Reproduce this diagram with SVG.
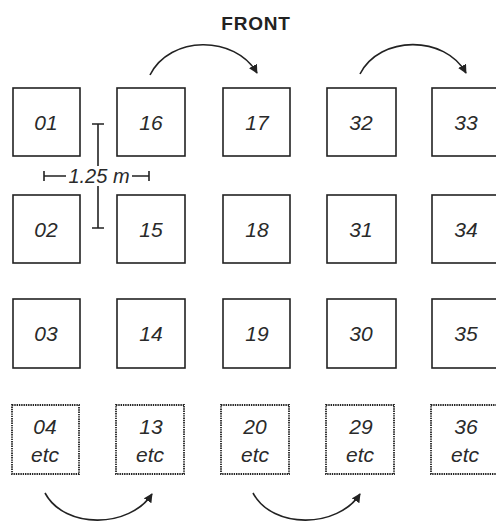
<svg xmlns="http://www.w3.org/2000/svg" width="496" height="522" viewBox="0 0 496 522">
<defs>
<style>
.box{fill:#fff;stroke:#222;stroke-width:1.6}
.dot{fill:#fff;stroke:#222;stroke-width:1.8;stroke-dasharray:1.4 0.9}
.lbl{font-family:"Liberation Sans",Arial,sans-serif;font-style:italic;font-size:21px;fill:#2a2a2a;text-anchor:middle}
.title{font-family:"Liberation Sans",Arial,sans-serif;font-weight:bold;font-size:19px;letter-spacing:0.8px;fill:#222;text-anchor:middle}
.arc{fill:none;stroke:#222;stroke-width:1.6}
.dim{fill:none;stroke:#222;stroke-width:1.6}
</style>
<marker id="ah" viewBox="0 0 10 10" refX="9" refY="5" markerWidth="9" markerHeight="9" markerUnits="userSpaceOnUse" orient="auto">
<path d="M0,0 L10,5 L0,10 z" fill="#222"/>
</marker>
</defs>
<rect width="496" height="522" fill="#fff"/>
<text class="title" x="256" y="30">FRONT</text>

<g id="n01"><rect class="box" x="13" y="88" width="67" height="68"/><text class="lbl" x="46" y="130">01</text></g>
<g id="n16"><rect class="box" x="117" y="88" width="68" height="68"/><text class="lbl" x="151" y="130">16</text></g>
<g id="n17"><rect class="box" x="223" y="88" width="67" height="68"/><text class="lbl" x="257" y="130">17</text></g>
<g id="n32"><rect class="box" x="327" y="88" width="69" height="68"/><text class="lbl" x="361" y="130">32</text></g>
<g id="n33"><rect class="box" x="432" y="88" width="68" height="68"/><text class="lbl" x="466" y="130">33</text></g>

<g id="n02"><rect class="box" x="13" y="195" width="67" height="68"/><text class="lbl" x="46" y="237">02</text></g>
<g id="n15"><rect class="box" x="117" y="195" width="68" height="68"/><text class="lbl" x="151" y="237">15</text></g>
<g id="n18"><rect class="box" x="223" y="195" width="67" height="68"/><text class="lbl" x="257" y="237">18</text></g>
<g id="n31"><rect class="box" x="327" y="195" width="69" height="68"/><text class="lbl" x="361" y="237">31</text></g>
<g id="n34"><rect class="box" x="432" y="195" width="68" height="68"/><text class="lbl" x="466" y="237">34</text></g>

<g id="n03"><rect class="box" x="13" y="299" width="67" height="69"/><text class="lbl" x="46" y="341">03</text></g>
<g id="n14"><rect class="box" x="117" y="299" width="68" height="69"/><text class="lbl" x="151" y="341">14</text></g>
<g id="n19"><rect class="box" x="223" y="299" width="67" height="69"/><text class="lbl" x="257" y="341">19</text></g>
<g id="n30"><rect class="box" x="327" y="299" width="69" height="69"/><text class="lbl" x="361" y="341">30</text></g>
<g id="n35"><rect class="box" x="432" y="299" width="68" height="69"/><text class="lbl" x="466" y="341">35</text></g>

<g id="n04"><rect class="dot" x="12" y="405" width="67" height="69"/><text class="lbl" x="45" y="434">04</text><text class="lbl" x="45" y="462">etc</text></g>
<g id="n13"><rect class="dot" x="116" y="405" width="68" height="69"/><text class="lbl" x="151" y="434">13</text><text class="lbl" x="150" y="462">etc</text></g>
<g id="n20"><rect class="dot" x="221" y="405" width="68" height="69"/><text class="lbl" x="255" y="434">20</text><text class="lbl" x="255" y="462">etc</text></g>
<g id="n29"><rect class="dot" x="326" y="405" width="68" height="69"/><text class="lbl" x="361" y="434">29</text><text class="lbl" x="360" y="462">etc</text></g>
<g id="n36"><rect class="dot" x="431" y="405" width="68" height="69"/><text class="lbl" x="466" y="434">36</text><text class="lbl" x="465" y="462">etc</text></g>

<g id="dimension">
<path class="dim" d="M92,124 H104 M98,124 V166 M98,186 V228 M92,228 H104"/>
<path class="dim" d="M44,171 V181 M44,176 H66 M132,176 H149 M149,171 V181"/>
<text class="lbl" x="99" y="183" style="font-size:20px">1.25 m</text>
</g>

<g id="connectors">
<path class="arc" d="M150,75 C170,35 235,35 257,73" marker-end="url(#ah)"/>
<path class="arc" d="M360,74 C380,35 445,35 466,73" marker-end="url(#ah)"/>
<path class="arc" d="M45,493 C65,530 130,528 152,494" marker-end="url(#ah)"/>
<path class="arc" d="M253,493 C273,530 338,528 360,494" marker-end="url(#ah)"/>
</g>
</svg>
